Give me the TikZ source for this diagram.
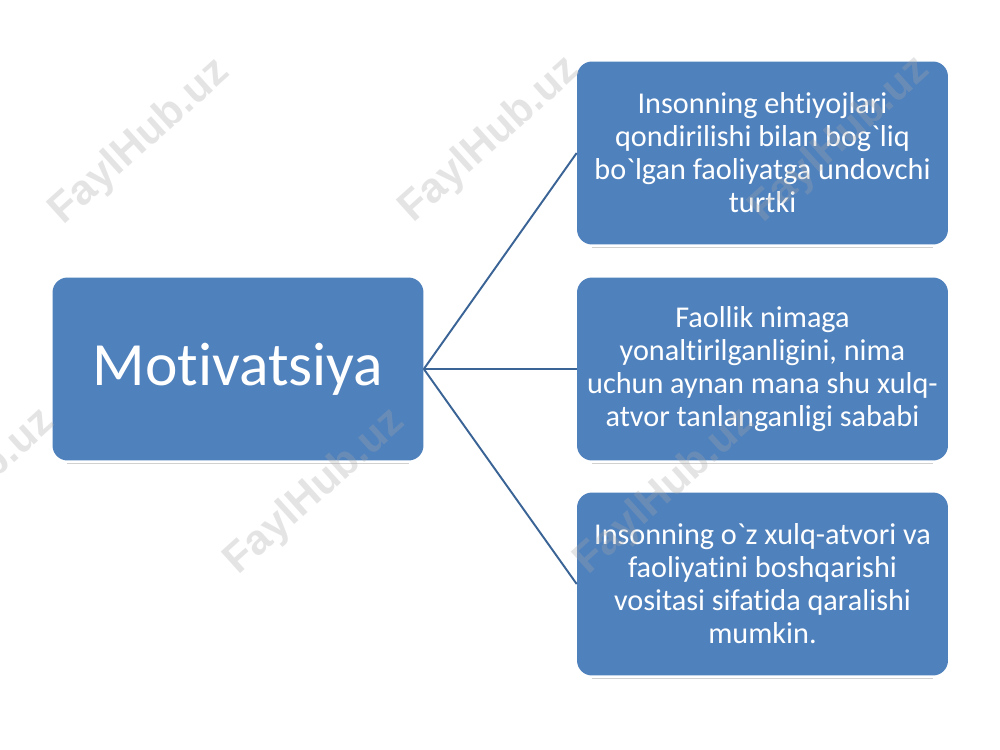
\documentclass[tikz,border=0pt]{standalone}
\usepackage{fontspec}
\setmainfont{Carlito}[Ligatures={TeXOff,CommonOff}]
\newfontfamily\wmfont{Liberation Sans}
\newcommand{\gr}{\symbol{96}}
\definecolor{boxblue}{HTML}{4F81BD}
\definecolor{linkblue}{HTML}{3B6496}
\definecolor{wmgray}{HTML}{A8A8A8}
\begin{document}
\begin{tikzpicture}[x=0.02cm,y=-0.02cm,
  box/.style={rectangle, rounded corners=0.3cm, fill=boxblue, text=white,
    minimum width=7.42cm, minimum height=3.66cm, align=center, inner sep=0pt},
  small/.style={font=\fontsize{17.2}{18.8}\selectfont},
  big/.style={font=\fontsize{35}{40}\selectfont},
  link/.style={draw=linkblue, line width=1.1pt},
  shade/.style={draw=black!18, line width=0.6pt},
  wm/.style={font=\wmfont\bfseries\fontsize{24}{28}\selectfont, text=wmgray,
    text opacity=0.3, rotate=42, inner sep=0pt}]
\useasboundingbox (0,0) rectangle (1000,750);
\fill[white] (0,0) rectangle (1000,750);
% boxes
\node[box, big] (m) at (238,369) {Motivatsiya};
\node[box, small] (a) at (762.5,153) {Insonning ehtiyojlari\\qondirilishi bilan bog\gr liq\\bo\gr lgan faoliyatga undovchi\\turtki};
\node[box, small] (b) at (762.5,369) {Faollik nimaga\\yonaltirilganligini, nima\\uchun aynan mana shu xulq-\\atvor tanlanganligi sababi};
\node[box, small] (c) at (762.5,584) {Insonning o\gr z xulq-atvori va\\faoliyatini boshqarishi\\vositasi sifatida qaralishi\\mumkin.};
% faint reflection lines below boxes
\foreach \n in {m,a,b,c}{
  \draw[shade] ([xshift=0.3cm,yshift=-0.06cm]\n.south west) -- ([xshift=-0.3cm,yshift=-0.06cm]\n.south east);
}
% connectors
\draw[link] (m.east) -- (a.west);
\draw[link] (m.east) -- (b.west);
\draw[link] (m.east) -- (c.west);
% watermarks
\node[wm] (w1) at (140,142) {FaylHub.uz};
\node[wm] (w2) at (490,140) {FaylHub.uz};
\node[wm] (w3) at (840,140) {FaylHub.uz};
\node[wm] (w4) at (-35,492) {FaylHub.uz};
\node[wm] (w5) at (315,492) {FaylHub.uz};
\node[wm] (w6) at (665,492) {FaylHub.uz};
\end{tikzpicture}
\end{document}
